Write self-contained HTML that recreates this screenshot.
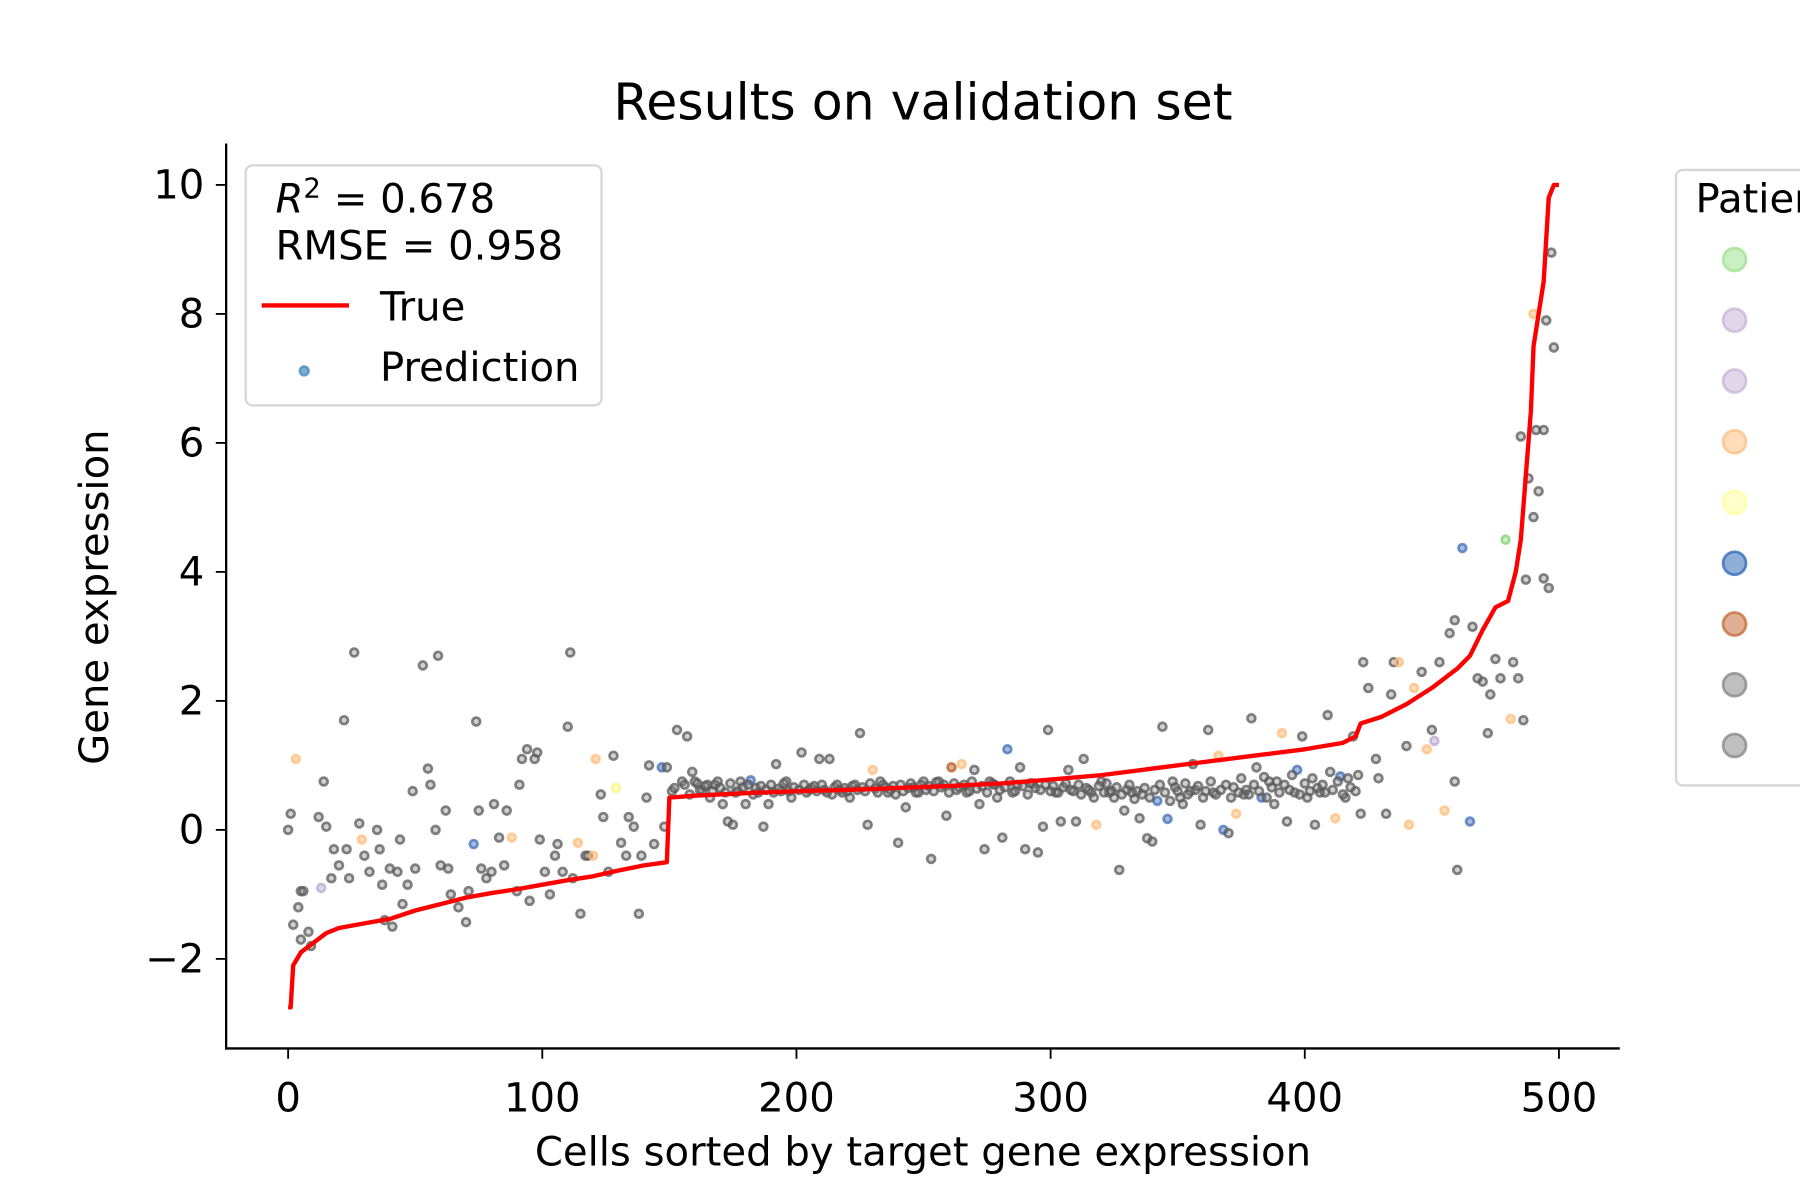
<!DOCTYPE html>
<html><head><meta charset="utf-8">
<style>
html,body{margin:0;padding:0;background:#fff;}
svg{display:block;font-family:"DejaVu Sans","Liberation Sans",sans-serif;}
</style></head>
<body>
<svg id="chart" width="1800" height="1200" viewBox="0 0 1568 1045" preserveAspectRatio="none" xmlns="http://www.w3.org/2000/svg">
<rect x="0" y="0" width="1568" height="1045" fill="#fff"/>
<text x="804" y="104" font-size="44" text-anchor="middle">Results on validation set</text>
<g id="marks"></g>
<g id="axes"></g>
<text x="804" y="1015" font-size="35" text-anchor="middle">Cells sorted by target gene expression</text>
<text transform="translate(94,520) rotate(-90)" font-size="35" text-anchor="middle">Gene expression</text>
<g>
<rect x="214" y="144" width="310" height="209" rx="6" fill="#fff" fill-opacity="0.85" stroke="#d6d6d6" stroke-width="2"/>
<text x="240" y="185" font-size="35"><tspan font-style="italic">R</tspan><tspan font-size="24" dy="-13">2</tspan><tspan dy="13"> = 0.678</tspan></text>
<text x="240" y="226" font-size="35">RMSE = 0.958</text>
<line x1="228" y1="266" x2="304" y2="266" stroke="#ff0000" stroke-width="3.8"/>
<text x="331" y="279" font-size="35">True</text>
<circle cx="265" cy="323" r="4" fill="#1f77b4" fill-opacity="0.6" stroke="#1f77b4" stroke-opacity="0.6" stroke-width="2"/>
<text x="331" y="332" font-size="35">Prediction</text>
</g>
<g id="plegend">
<rect x="1460" y="148" width="140" height="536" rx="6" fill="#fff" stroke="#d6d6d6" stroke-width="2"/>
<text x="1477" y="185" font-size="35">Patient</text>
</g>
</svg>
<script>
const NS="http://www.w3.org/2000/svg";
// true curve: cell index and value
const trueIdx=[0,1,2,5,10,15,20,30,40,50,60,70,80,90,100,110,120,130,140,149,150,160,180,200,220,240,260,280,300,320,340,360,380,400,415,420,422,430,440,450,460,465,470,475,480,483,485,487,489,490,492,494,496,498,500];
const trueVal=[-2.75,-2.75,-2.1,-1.9,-1.75,-1.6,-1.52,-1.45,-1.38,-1.25,-1.15,-1.05,-0.98,-0.92,-0.85,-0.78,-0.72,-0.63,-0.55,-0.5,0.5,0.53,0.57,0.6,0.62,0.65,0.68,0.72,0.78,0.85,0.95,1.05,1.15,1.25,1.35,1.45,1.65,1.75,1.95,2.2,2.5,2.7,3.1,3.45,3.55,4.0,4.5,5.5,6.5,7.5,8.0,8.5,9.8,10,10];
// predictions: index, value, patient group (0 grey,1 orange,2 blue,3 purple,4 green,5 brown,6 yellow)
const predIdx=[0,1,3,2,4,5,6,5,8,9,12,13,14,15,17,18,20,22,23,24,26,28,29,30,32,35,36,37,38,40,41,43,44,45,47,49,50,
53,55,56,58,59,60,62,63,64,67,70,71,73,74,75,76,78,80,81,83,85,86,88,90,91,92,94,95,97,98,99,
101,103,105,106,108,110,111,112,114,115,117,118,120,121,123,124,126,128,129,131,133,134,136,138,139,141,142,144,147,149,148,
151,153,155,157,159,160,163,165,167,169,171,173,175,176,178,180,182,185,187,189,192,194,196,198,
202,205,209,213,214,218,221,225,228,230,233,236,240,243,248,250,
253,256,259,261,265,267,270,272,274,276,279,281,283,285,288,290,293,295,297,299,
302,304,307,310,313,316,318,320,323,327,329,332,335,338,340,342,344,346,348,
352,355,356,359,362,364,366,368,370,373,376,379,381,383,386,388,391,393,396,397,399,
401,404,406,409,412,414,416,419,422,423,425,428,429,432,434,435,437,440,441,443,446,448,450,
451,453,455,457,459,460,459,462,465,466,468,470,472,473,475,477,479,481,482,484,486,487,488,490,490,492,494,494,495,496,497,498,485,491,
152,156,158,161,162,164,166,168,170,172,174,177,179,181,183,184,186,188,190,191,193,195,197,199,201,203,204,206,207,208,210,211,212,215,216,217,219,220,222,223,224,226,227,229,231,232,234,235,237,238,239,241,242,244,245,246,247,249,251,252,254,255,257,258,260,262,263,264,266,268,269,271,273,275,277,278,280,282,284,286,287,289,291,292,294,296,298,300,301,303,305,306,308,309,311,312,314,315,317,319,321,322,324,325,326,328,330,331,333,334,336,337,339,341,343,345,347,349,350,351,353,354,357,358,360,361,363,365,367,369,371,372,374,375,377,378,380,382,384,385,387,389,390,392,394,395,398,400,402,403,405,407,408,410,411,413,415,417,418,420,421];
const predVal=[0,0.25,1.1,-1.47,-1.2,-0.95,-0.95,-1.7,-1.58,-1.8,0.2,-0.9,0.75,0.05,-0.75,-0.3,-0.55,1.7,-0.3,-0.75,2.75,0.1,-0.15,-0.4,-0.65,0,-0.3,-0.85,-1.4,-0.6,-1.5,-0.65,-0.15,-1.15,-0.85,0.6,-0.6,
2.55,0.95,0.7,0,2.7,-0.55,0.3,-0.6,-1.0,-1.2,-1.43,-0.95,-0.22,1.68,0.3,-0.6,-0.75,-0.65,0.4,-0.12,-0.55,0.3,-0.12,-0.95,0.7,1.1,1.25,-1.1,1.1,1.2,-0.15,
-0.65,-1.0,-0.4,-0.22,-0.65,1.6,2.75,-0.75,-0.2,-1.3,-0.4,-0.4,-0.4,1.1,0.55,0.2,-0.65,1.15,0.65,-0.2,-0.4,0.2,0.05,-1.3,-0.4,0.5,1.0,-0.22,0.97,0.97,0.05,
0.6,1.55,0.75,1.45,0.9,0.75,0.6,0.7,0.6,0.75,0.4,0.13,0.08,0.58,0.75,0.4,0.77,0.58,0.05,0.4,1.02,0.6,0.75,0.5,
1.2,0.62,1.1,1.1,0.55,0.58,0.5,1.5,0.08,0.93,0.75,0.58,-0.2,0.35,0.58,0.75,
-0.45,0.75,0.22,0.97,1.02,0.58,0.93,0.4,-0.3,0.75,0.5,-0.12,1.25,0.58,0.97,-0.3,0.72,-0.35,0.05,1.55,
0.58,0.13,0.93,0.13,1.1,0.58,0.08,0.75,0.58,-0.62,0.3,0.58,0.18,-0.13,-0.18,0.45,1.6,0.17,0.75,
0.4,0.6,1.02,0.08,1.55,0.58,1.15,0,-0.05,0.25,0.55,1.73,0.97,0.5,0.75,0.4,1.5,0.13,0.58,0.93,1.45,
0.5,0.08,0.58,1.78,0.18,0.83,0.5,1.45,0.25,2.6,2.2,1.1,0.8,0.25,2.1,2.6,2.6,1.3,0.08,2.2,2.45,1.25,1.55,
1.38,2.6,0.3,3.05,0.75,-0.62,3.25,4.37,0.13,3.15,2.35,2.3,1.5,2.1,2.65,2.35,4.5,1.72,2.6,2.35,1.7,3.88,5.45,4.85,8.0,5.25,6.2,3.9,7.9,3.75,8.95,7.48,6.1,6.2,
0.65,0.7,0.55,0.72,0.62,0.68,0.5,0.7,0.65,0.58,0.72,0.6,0.66,0.7,0.55,0.65,0.68,0.62,0.7,0.58,0.64,0.72,0.6,0.66,0.62,0.7,0.58,0.65,0.68,0.6,0.7,0.62,0.58,0.66,0.7,0.62,0.65,0.6,0.68,0.7,0.62,0.66,0.6,0.72,0.64,0.58,0.7,0.66,0.62,0.68,0.55,0.7,0.6,0.65,0.72,0.66,0.58,0.7,0.62,0.68,0.6,0.74,0.66,0.7,0.58,0.72,0.62,0.66,0.7,0.6,0.75,0.64,0.68,0.58,0.72,0.7,0.62,0.66,0.75,0.6,0.7,0.68,0.55,0.72,0.65,0.62,0.7,0.6,0.68,0.58,0.66,0.72,0.62,0.6,0.7,0.55,0.65,0.62,0.5,0.68,0.58,0.72,0.6,0.5,0.66,0.55,0.62,0.7,0.48,0.6,0.55,0.65,0.5,0.62,0.7,0.58,0.45,0.66,0.6,0.5,0.72,0.55,0.62,0.68,0.5,0.6,0.75,0.55,0.62,0.7,0.5,0.66,0.58,0.8,0.62,0.55,0.7,0.6,0.82,0.5,0.66,0.75,0.58,0.7,0.62,0.85,0.55,0.72,0.6,0.8,0.65,0.7,0.58,0.9,0.62,0.75,0.55,0.8,0.66,0.6,0.85];
const predGroup=[0,0,1,0,0,0,0,0,0,0,0,3,0,0,0,0,0,0,0,0,0,0,1,0,0,0,0,0,0,0,0,0,0,0,0,0,0,
0,0,0,0,0,0,0,0,0,0,0,0,2,0,0,0,0,0,0,0,0,0,1,0,0,0,0,0,0,0,0,
0,0,0,0,0,0,0,0,1,0,0,0,1,1,0,0,0,0,6,0,0,0,0,0,0,0,0,0,2,0,0,
0,0,0,0,0,0,0,0,0,0,0,0,0,0,0,0,2,0,0,0,0,0,0,0,
0,0,0,0,0,0,0,0,0,1,0,0,0,0,0,0,
0,0,0,5,1,0,0,0,0,0,0,0,2,0,0,0,0,0,0,0,
0,0,0,0,0,0,1,0,0,0,0,0,0,0,0,2,0,2,0,
0,0,0,0,0,0,1,2,0,1,0,0,0,2,0,0,1,0,0,2,0,
0,0,0,0,1,2,0,0,0,0,0,0,0,0,0,0,1,0,1,1,0,1,0,
3,0,1,0,0,0,0,2,2,0,0,0,0,0,0,0,4,1,0,0,0,0,0,0,1,0,0,0,0,0,0,0,0,0];
const tickX=[0,100,200,300,400,500];
const tickY=[-2,0,2,4,6,8,10];
const tickYLabels=["\u22122","0","2","4","6","8","10"];
const groupFill=["#7a7a7a","#ffbb78","#4c78c0","#c5b0d5","#98df8a","#c0622a","#ffff99"];
const groupStroke=["#5a5a5a","#ffbb78","#3a68b4","#b8a4cc","#7fcf70","#b0581f","#f5f57a"];
const legendFill=["#98df8a","#c5b0d5","#c5b0d5","#ffbb78","#ffff99","#1f5fb4","#c0622a","#7f7f7f","#7f7f7f"];

function xs(i){return 251+i*(1358-251)/500;}
function ys(v){return 722.7-v*(835-161)/12;}

const marks=document.getElementById('marks');
for(let k=0;k<predIdx.length;k++){
  const c=document.createElementNS(NS,'circle');
  const g=predGroup[k]||0;
  c.setAttribute('cx',xs(predIdx[k]));
  c.setAttribute('cy',ys(predVal[k]));
  c.setAttribute('r',3.4);
  c.setAttribute('fill',groupFill[g]);
  c.setAttribute('fill-opacity',g===0?0.35:0.5);
  c.setAttribute('stroke',groupStroke[g]);
  c.setAttribute('stroke-opacity',g===0?0.75:0.7);
  c.setAttribute('stroke-width',2.4);
  
  
  marks.appendChild(c);
}
let d='';
for(let k=0;k<trueIdx.length;k++){d+=(k?'L':'M')+xs(trueIdx[k]).toFixed(1)+' '+ys(trueVal[k]).toFixed(1);}
const line=document.createElementNS(NS,'path');
line.setAttribute('d',d);
line.setAttribute('fill','none');
line.setAttribute('stroke','#ff0000');
line.setAttribute('stroke-width',3.8);
line.setAttribute('stroke-linejoin','round');


marks.appendChild(line);

const axes=document.getElementById('axes');
function add(tag,attrs,text){const e=document.createElementNS(NS,tag);for(const k in attrs)e.setAttribute(k,attrs[k]);if(text!==undefined)e.textContent=text;axes.appendChild(e);return e;}
const ya=add('line',{x1:197,y1:125,x2:197,y2:914,stroke:'#000','stroke-width':2});


const xa=add('line',{x1:196,y1:913,x2:1411,y2:913,stroke:'#000','stroke-width':2});


tickX.forEach(t=>{
  add('line',{x1:xs(t),y1:913,x2:xs(t),y2:922,stroke:'#000','stroke-width':1.6});
  const tl=add('text',{x:xs(t),y:968,'font-size':35,'text-anchor':'middle'},String(t));
  
  
});
tickY.forEach((t,i)=>{
  add('line',{x1:188,y1:ys(t),x2:197,y2:ys(t),stroke:'#000','stroke-width':1.6});
  const tl=add('text',{x:178,y:ys(t)+12,'font-size':35,'text-anchor':'end'},tickYLabels[i]);
  
  
});
const pl=document.getElementById('plegend');
legendFill.forEach((f,i)=>{
  const c=document.createElementNS(NS,'circle');
  c.setAttribute('cx',1511);c.setAttribute('cy',226+i*52.9);c.setAttribute('r',10);
  c.setAttribute('fill',f);c.setAttribute('fill-opacity',0.5);
  c.setAttribute('stroke',f);c.setAttribute('stroke-opacity',0.7);c.setAttribute('stroke-width',2.4);
  
  
  pl.appendChild(c);
});
</script>
</body></html>
